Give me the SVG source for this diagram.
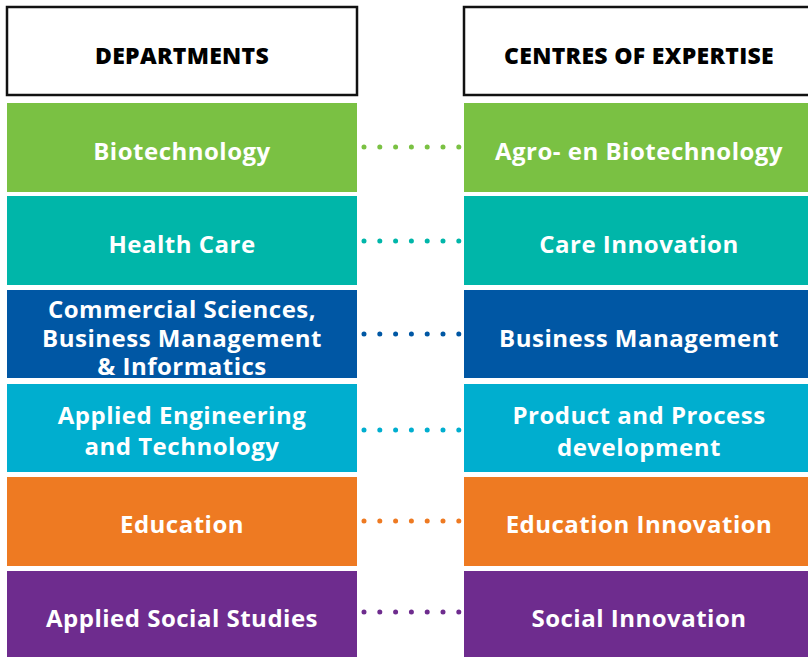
<svg xmlns="http://www.w3.org/2000/svg" width="808" height="657" viewBox="0 0 808 657">
<defs>
<style>
.hdr{fill:#fff;stroke:#111;stroke-width:2.5}
.ht{font-family:"Open Sans","Liberation Sans",sans-serif;font-weight:800;font-size:23px;letter-spacing:0.3px;fill:#000;text-anchor:middle}
.t{font-family:"Open Sans","Liberation Sans",sans-serif;font-weight:700;font-size:24px;letter-spacing:0.5px;fill:#fff;text-anchor:middle}
.dots{fill:none;stroke-width:5;stroke-linecap:round;stroke-dasharray:0 15.8}
</style>
</defs>
<rect width="808" height="657" fill="#fff"/>
<g id="hdr-departments"><rect class="hdr" x="7" y="7" width="350" height="88"/><text class="ht" x="182" y="64">DEPARTMENTS</text></g>
<g id="hdr-centres"><rect class="hdr" x="464" y="7" width="360" height="88"/><text class="ht" x="639" y="64">CENTRES OF EXPERTISE</text></g>

<g id="dep-bio"><rect x="7" y="103" width="350" height="89" fill="#7AC143"/><text class="t" x="182" y="160">Biotechnology</text></g>
<g id="dep-health"><rect x="7" y="196" width="350" height="89" fill="#00B6A9"/><text class="t" x="182" y="253">Health Care</text></g>
<g id="dep-commercial"><rect x="7" y="290" width="350" height="88" fill="#0057A4"/><text class="t" x="182" y="318">Commercial Sciences,</text><text class="t" x="182" y="347">Business Management</text><text class="t" x="182" y="375">&amp; Informatics</text></g>
<g id="dep-engineering"><rect x="7" y="384" width="350" height="88" fill="#00AECF"/><text class="t" x="182" y="424">Applied Engineering</text><text class="t" x="182" y="455">and Technology</text></g>
<g id="dep-education"><rect x="7" y="477" width="350" height="89" fill="#EE7A22"/><text class="t" x="182" y="533">Education</text></g>
<g id="dep-social"><rect x="7" y="571" width="350" height="86" fill="#6E2C8E"/><text class="t" x="182" y="627">Applied Social Studies</text></g>

<g id="coe-agro"><rect x="464" y="103" width="344" height="89" fill="#7AC143"/><text class="t" x="639" y="160">Agro- en Biotechnology</text></g>
<g id="coe-care"><rect x="464" y="196" width="344" height="89" fill="#00B6A9"/><text class="t" x="639" y="253">Care Innovation</text></g>
<g id="coe-business"><rect x="464" y="290" width="344" height="88" fill="#0057A4"/><text class="t" x="639" y="347">Business Management</text></g>
<g id="coe-product"><rect x="464" y="384" width="344" height="88" fill="#00AECF"/><text class="t" x="639" y="424">Product and Process</text><text class="t" x="639" y="456">development</text></g>
<g id="coe-education"><rect x="464" y="477" width="344" height="89" fill="#EE7A22"/><text class="t" x="639" y="533">Education Innovation</text></g>
<g id="coe-social"><rect x="464" y="571" width="344" height="86" fill="#6E2C8E"/><text class="t" x="639" y="627">Social Innovation</text></g>

<g id="connectors">
<path class="dots" stroke="#7AC143" d="M364 147H460"/>
<path class="dots" stroke="#00B6A9" d="M364 241H460"/>
<path class="dots" stroke="#0057A4" d="M364 334H460"/>
<path class="dots" stroke="#00AECF" d="M364 430H460"/>
<path class="dots" stroke="#EE7A22" d="M364 521H460"/>
<path class="dots" stroke="#6E2C8E" d="M364 612H460"/>
</g>
</svg>
